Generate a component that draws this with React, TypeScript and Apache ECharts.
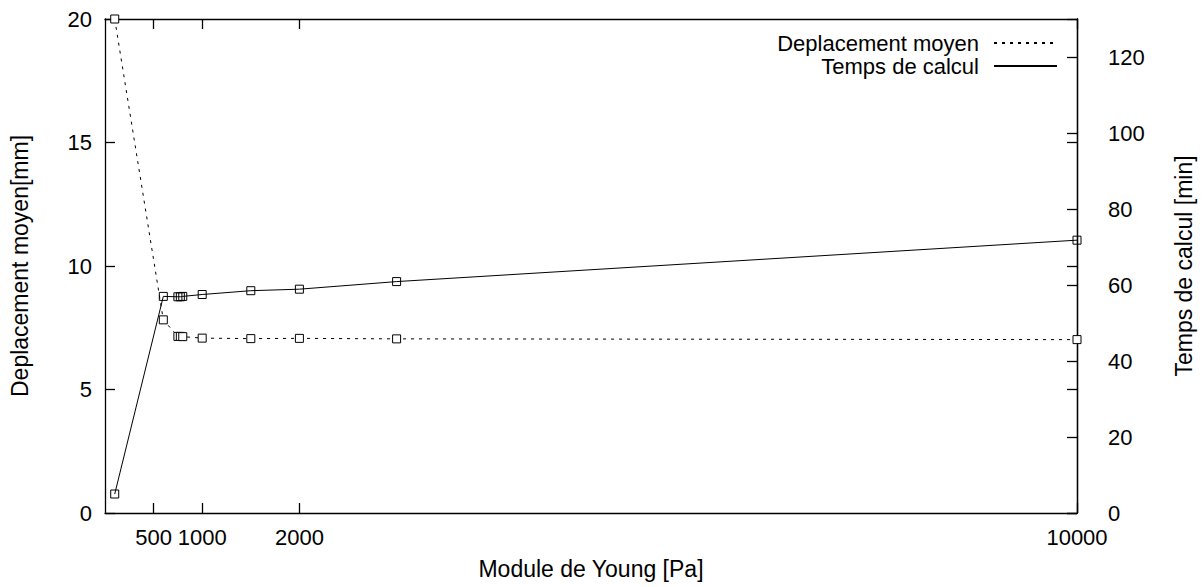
import React, { useEffect, useRef } from "react";
import * as echarts from "echarts";

const xValues = [100, 600, 750, 775, 800, 1000, 1500, 2000, 3000, 10000];
const deplacement = [20, 7.82, 7.15, 7.15, 7.14, 7.08, 7.06, 7.07, 7.05, 7.02];
const temps = [5, 57.0, 56.9, 56.9, 57.0, 57.5, 58.5, 58.9, 60.9, 71.8];
const xTicks = [500, 1000, 2000, 10000];
const y2Ticks = [0, 20, 40, 60, 80, 100, 120];

const FONT = "Liberation Sans";
const FS = 22;

const mkTick = (extra?: any) => ({
  show: true,
  inside: true,
  length: 10,
  lineStyle: { color: "#000", width: 1.3 },
  ...(extra || {}),
});
const mkLine = () => ({ show: true, onZero: false, lineStyle: { color: "#000", width: 1.3 } });

export default function App() {
  const ref = useRef<HTMLDivElement>(null);
  useEffect(() => {
    if (!ref.current) return;
    const chart = echarts.init(ref.current, undefined, { renderer: "svg" });
    const label = { color: "#000", fontSize: FS, fontFamily: FONT };
    chart.setOption({
      animation: false,
      backgroundColor: "#fff",
      textStyle: { fontFamily: FONT },
      grid: { left: 103, right: 124, top: 19, bottom: 74, containLabel: false },
      legend: {
        orient: "vertical",
        right: 140,
        top: 27,
        align: "right",
        itemWidth: 63,
        itemHeight: 14,
        itemGap: 1,
        itemStyle: { opacity: 0 },
        textStyle: { color: "#000", fontSize: FS, fontFamily: FONT, padding: [0, 10, 0, 0] },
        data: ["Deplacement moyen", "Temps de calcul"],
      },
      xAxis: [
        {
          type: "value",
          min: 0,
          max: 10000,
          interval: 500,
          position: "bottom",
          name: "Module de Young [Pa]",
          nameLocation: "middle",
          nameGap: 44,
          nameTextStyle: { color: "#000", fontSize: 23, fontFamily: FONT },
          axisLine: mkLine(),
          axisTick: mkTick({ customValues: xTicks }),
          axisLabel: { ...label, margin: 13, customValues: xTicks, formatter: (v: number) => String(v) },
          splitLine: { show: false },
        },
        {
          type: "value",
          min: 0,
          max: 10000,
          interval: 500,
          position: "top",
          axisLine: mkLine(),
          axisTick: mkTick({ customValues: xTicks }),
          axisLabel: { show: false },
          splitLine: { show: false },
        },
      ],
      yAxis: [
        {
          type: "value",
          min: 0,
          max: 20,
          interval: 5,
          position: "left",
          name: "Deplacement moyen[mm]",
          nameLocation: "middle",
          nameRotate: 90,
          nameGap: 74,
          nameTextStyle: { color: "#000", fontSize: 23, fontFamily: FONT },
          axisLine: mkLine(),
          axisTick: mkTick(),
          axisLabel: { ...label, margin: 13 },
          splitLine: { show: false },
        },
        {
          type: "value",
          min: 0,
          max: 130,
          interval: 20,
          position: "right",
          name: "Temps de calcul [min]",
          nameLocation: "middle",
          nameRotate: 90,
          nameGap: 95,
          nameTextStyle: { color: "#000", fontSize: 23, fontFamily: FONT },
          axisLine: mkLine(),
          axisTick: mkTick({ customValues: y2Ticks }),
          axisLabel: { ...label, margin: 31, customValues: y2Ticks },
          splitLine: { show: false },
        },
        {
          type: "value",
          min: 0,
          max: 20,
          interval: 5,
          position: "right",
          axisLine: mkLine(),
          axisTick: mkTick(),
          axisLabel: { show: false },
          splitLine: { show: false },
        },
      ],
      series: [
        {
          name: "Deplacement moyen",
          type: "line",
          xAxisIndex: 0,
          yAxisIndex: 0,
          clip: false,
          data: xValues.map((x, i) => [x, deplacement[i]]),
          symbol: "rect",
          symbolSize: 8,
          itemStyle: { color: "#fff", borderColor: "#000", borderWidth: 1, opacity: 1 },
          lineStyle: { color: "#000", width: 1, type: [3, 5] },
        },
        {
          name: "Temps de calcul",
          type: "line",
          xAxisIndex: 0,
          yAxisIndex: 1,
          clip: false,
          data: xValues.map((x, i) => [x, temps[i]]),
          symbol: "rect",
          symbolSize: 8,
          itemStyle: { color: "rgba(255,255,255,0)", borderColor: "#000", borderWidth: 1 },
          lineStyle: { color: "#000", width: 1, type: "solid" },
        },
      ],
    });
    return () => chart.dispose();
  }, []);
  return <div ref={ref} style={{ width: 1203, height: 587, position: "absolute", left: 0, top: 0 }} />;
}
